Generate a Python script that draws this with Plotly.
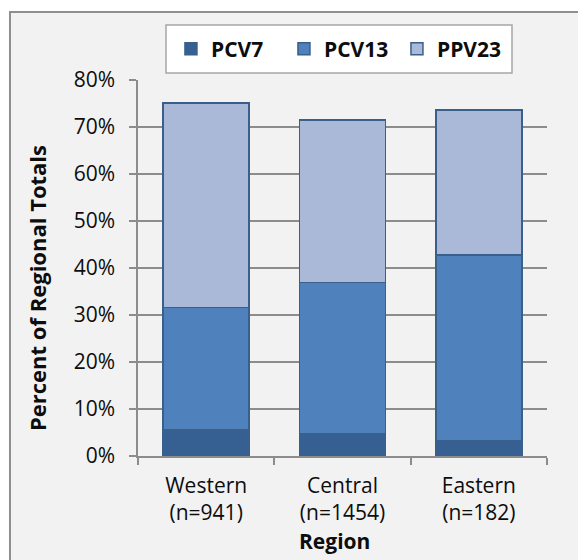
import plotly.graph_objects as go

# Regions and their sample sizes
regions = ["Western", "Central", "Eastern"]
region_n = [941, 1454, 182]

# Share of each region's total covered by each vaccine serotype group (%)
pcv7 = [5.5, 4.8, 3.3]
pcv13 = [26.1, 32.1, 39.5]
ppv23 = [43.5, 34.6, 30.8]

series_names = ["PCV7", "PCV13", "PPV23"]
series_values = [pcv7, pcv13, ppv23]
series_colors = ["#376092", "#4F81BD", "#A9B9D7"]

y_ticks = [0, 10, 20, 30, 40, 50, 60, 70, 80]
y_tick_labels = [f"{v}%" for v in y_ticks]

cat_labels = [f"{r}<br>(n={n})" for r, n in zip(regions, region_n)]

FONT = "Open Sans"
GRID = "#8C8C8C"
TXT = "#0D0D0D"

fig = go.Figure()
for name, vals, col in zip(series_names, series_values, series_colors):
    fig.add_trace(go.Bar(
        name=name,
        x=cat_labels,
        y=vals,
        marker=dict(color=col, line=dict(color="#3A5F8B", width=1.5)),
        width=0.63,
    ))

fig.update_layout(
    barmode="stack",
    width=578,
    height=560,
    margin=dict(l=138, r=31, t=80, b=104),
    paper_bgcolor="white",
    plot_bgcolor="rgba(0,0,0,0)",
    font=dict(family=FONT, size=21, color=TXT),
    showlegend=True,
    legend=dict(
        orientation="h",
        x=0.495, xanchor="center",
        y=1.082, yanchor="middle",
        bgcolor="rgba(0,0,0,0)",
        borderwidth=0,
        font=dict(family=FONT, size=21, color=TXT, weight="bold"),
        itemwidth=30,
        entrywidth=68,
        entrywidthmode="pixels",
        traceorder="normal",
    ),
    xaxis=dict(
        type="category",
        tickson="boundaries",
        ticks="outside",
        ticklen=7,
        tickcolor=GRID,
        tickwidth=1.5,
        showline=True,
        linecolor=GRID,
        linewidth=1.5,
        showgrid=False,
        ticklabelstandoff=10,
        tickfont=dict(family=FONT, size=21, color=TXT),
    ),
    yaxis=dict(
        range=[0, 80],
        tickvals=y_ticks,
        ticktext=y_tick_labels,
        ticks="outside",
        ticklen=7,
        tickcolor=GRID,
        tickwidth=1.5,
        showline=True,
        linecolor=GRID,
        linewidth=1.5,
        showgrid=True,
        gridcolor=GRID,
        gridwidth=1.5,
        zeroline=False,
        ticklabelstandoff=10,
        tickfont=dict(family=FONT, size=21, color=TXT),
    ),
    shapes=[
        # chart frame
        dict(
            type="rect", xref="paper", yref="paper", layer="below",
            x0=-0.313, x1=1.2, y0=-0.4, y1=1.181,
            fillcolor="#F2F2F2",
            line=dict(color="#8F8F8F", width=2),
        ),
        # legend box
        dict(
            type="rect", xref="paper", yref="paper", layer="below",
            x0=(166 - 138) / 409, x1=(512 - 138) / 409,
            y0=(456 - 73) / 376, y1=(456 - 25) / 376,
            fillcolor="white",
            line=dict(color="#A6A6A6", width=1.5),
        ),
    ],
    annotations=[
        dict(
            text="<b>Percent of Regional Totals</b>",
            xref="paper", yref="paper",
            x=(37 - 138) / 409, y=(456 - 288) / 376,
            xanchor="center", yanchor="middle",
            textangle=-90,
            showarrow=False,
            font=dict(family=FONT, size=22, color=TXT),
        ),
        dict(
            text="<b>Region</b>",
            xref="paper", yref="paper",
            x=(334 - 138) / 409, y=(456 - 541) / 376,
            xanchor="center", yanchor="middle",
            showarrow=False,
            font=dict(family=FONT, size=21, color=TXT),
        ),
    ],
)

fig.write_html("out.html")
